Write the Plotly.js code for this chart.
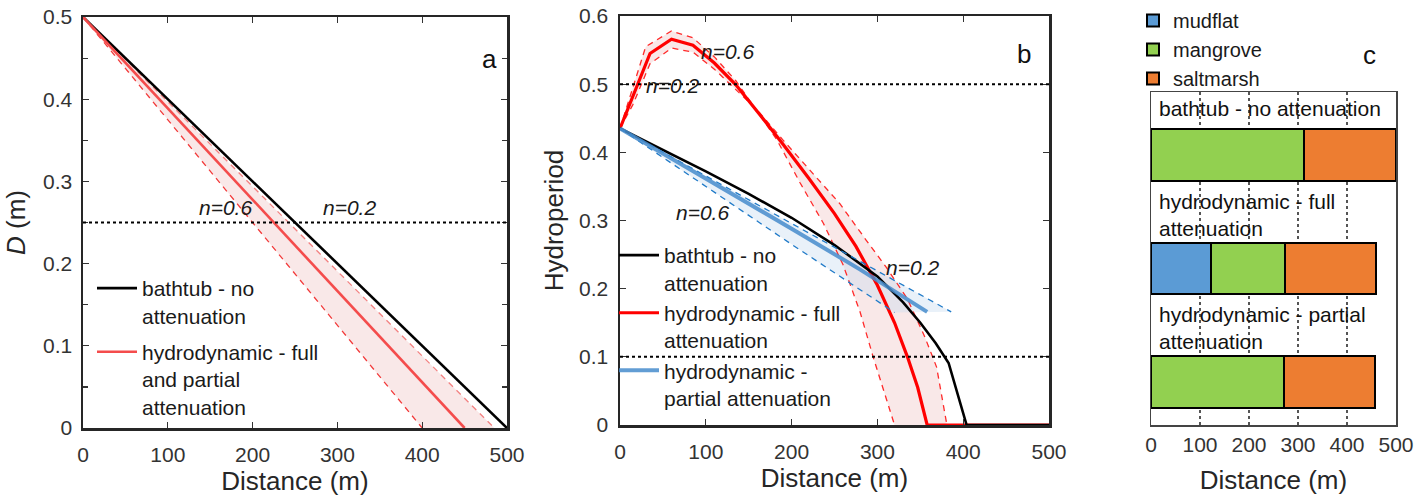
<!DOCTYPE html>
<html>
<head>
<meta charset="utf-8">
<script src="https://cdn.plot.ly/plotly-3.0.1.min.js"></script>
<style>html,body{margin:0;padding:0;background:#fff;}#chart{width:1427px;height:499px;}</style>
</head>
<body>
<div id="chart"></div>
<script>
// ---------- Panel a : water depth D (m) vs distance ----------
const aBathX = [0, 500];
const aBathD = [0.5, 0];
const aHydroX = [0, 450];
const aHydroD = [0.5, 0];
const aN06X = [0, 400];
const aN06D = [0.5, 0];
const aN02X = [0, 485];
const aN02D = [0.5, 0];
const aThreshold = [0.25];

// ---------- Panel b : hydroperiod vs distance ----------
const bBathX = [0, 50, 100, 150, 200, 250, 300, 330, 350, 368, 383, 404, 500];
const bBathH = [0.435, 0.404, 0.372, 0.339, 0.304, 0.264, 0.218, 0.180, 0.150, 0.120, 0.091, 0, 0];

const bFullX = [0, 35, 60, 85, 110, 135, 160, 190, 220, 250, 275, 300, 320, 335, 347, 358, 500];
const bFullH = [0.435, 0.545, 0.566, 0.557, 0.531, 0.499, 0.460, 0.412, 0.362, 0.310, 0.262, 0.205, 0.150, 0.100, 0.055, 0, 0];
const bFullN06X = [0, 30, 60, 85, 110, 135, 160, 183, 210, 237, 260, 280, 295, 320];
const bFullN06H = [0.435, 0.555, 0.578, 0.568, 0.540, 0.505, 0.460, 0.418, 0.355, 0.296, 0.235, 0.165, 0.100, 0];
const bFullN02X = [0, 15, 35, 60, 85, 110, 135, 160, 190, 221, 256, 287, 310, 335, 355, 369, 381];
const bFullN02H = [0.435, 0.470, 0.530, 0.553, 0.547, 0.522, 0.492, 0.462, 0.418, 0.374, 0.325, 0.271, 0.232, 0.185, 0.130, 0.085, 0];

const bPartX = [0, 100, 200, 280, 358];
const bPartH = [0.435, 0.362, 0.288, 0.228, 0.166];
const bPartN06X = [0, 100, 200, 320];
const bPartN06H = [0.435, 0.350, 0.265, 0.165];
const bPartN02X = [0, 100, 200, 386];
const bPartN02H = [0.435, 0.365, 0.296, 0.166];
const bThresholds = [0.5, 0.1];

// ---------- Panel c : vegetation zones ----------
const scenarios = ['bathtub', 'full', 'partial'];
const scenarioLabels = ['bathtub - no attenuation', 'hydrodynamic - full<br>attenuation', 'hydrodynamic - partial<br>attenuation'];
const mudflatW = [null, 122, null];
const mangroveW = [312, 151, 271];
const saltmarshW = [188, 187, 186];

// ---------- helpers ----------
const W = 1427, H = 499;
const px = v => v / W;
const py = v => 1 - v / H;
const FONT = 'Liberation Sans, Arial, sans-serif';
const rev = a => a.slice().reverse();

const traces = [];
// Panel a
traces.push({x: aN06X.concat(rev(aN02X)), y: aN06D.concat(rev(aN02D)), xaxis: 'x', yaxis: 'y', mode: 'lines', fill: 'toself',
  fillcolor: 'rgba(238,190,190,0.35)', line: {width: 0}, showlegend: false, hoverinfo: 'skip'});
traces.push({x: aN06X, y: aN06D, xaxis: 'x', yaxis: 'y', mode: 'lines', line: {color: '#f23a3a', width: 1.3, dash: '6px,5px'}, showlegend: false});
traces.push({x: aN02X, y: aN02D, xaxis: 'x', yaxis: 'y', mode: 'lines', line: {color: '#f38080', width: 1.3, dash: '6px,5px'}, showlegend: false});
traces.push({x: aBathX, y: aBathD, xaxis: 'x', yaxis: 'y', mode: 'lines', line: {color: '#000', width: 2.6},
  name: 'bathtub - no<br>attenuation', legend: 'legend', legendgroup: 'a1'});
traces.push({x: aHydroX, y: aHydroD, xaxis: 'x', yaxis: 'y', mode: 'lines', line: {color: '#f44c4c', width: 2.6},
  name: 'hydrodynamic - full<br>and partial<br>attenuation', legend: 'legend', legendgroup: 'a2'});

// Panel b
traces.push({x: bFullN06X.concat(rev(bFullN02X)), y: bFullN06H.concat(rev(bFullN02H)), xaxis: 'x2', yaxis: 'y2', mode: 'lines', fill: 'toself',
  fillcolor: 'rgba(238,190,190,0.35)', line: {width: 0}, showlegend: false, hoverinfo: 'skip'});
traces.push({x: bPartN06X.concat(rev(bPartN02X)), y: bPartN06H.concat(rev(bPartN02H)), xaxis: 'x2', yaxis: 'y2', mode: 'lines', fill: 'toself',
  fillcolor: 'rgba(200,220,240,0.4)', line: {width: 0}, showlegend: false, hoverinfo: 'skip'});
traces.push({x: bFullN06X, y: bFullN06H, xaxis: 'x2', yaxis: 'y2', mode: 'lines', line: {color: '#ff2a2a', width: 1.3, dash: '6px,5px'}, showlegend: false});
traces.push({x: bFullN02X, y: bFullN02H, xaxis: 'x2', yaxis: 'y2', mode: 'lines', line: {color: '#ff2a2a', width: 1.3, dash: '6px,5px'}, showlegend: false});
traces.push({x: bFullX, y: bFullH, xaxis: 'x2', yaxis: 'y2', mode: 'lines', line: {color: '#ff0000', width: 3.2},
  name: 'hydrodynamic - full<br>attenuation', legend: 'legend2', legendrank: 2, legendgroup: 'b2'});
traces.push({x: bBathX, y: bBathH, xaxis: 'x2', yaxis: 'y2', mode: 'lines', line: {color: '#000', width: 2.6},
  name: 'bathtub - no<br>attenuation', legend: 'legend2', legendrank: 1, legendgroup: 'b1'});
traces.push({x: bPartN06X, y: bPartN06H, xaxis: 'x2', yaxis: 'y2', mode: 'lines', line: {color: '#1f7ac8', width: 1.3, dash: '6px,5px'}, showlegend: false});
traces.push({x: bPartN02X, y: bPartN02H, xaxis: 'x2', yaxis: 'y2', mode: 'lines', line: {color: '#1f7ac8', width: 1.3, dash: '6px,5px'}, showlegend: false});
traces.push({x: bPartX, y: bPartH, xaxis: 'x2', yaxis: 'y2', mode: 'lines', line: {color: 'rgba(70,140,205,0.85)', width: 4},
  name: 'hydrodynamic -<br>partial attenuation', legend: 'legend2', legendrank: 3, legendgroup: 'b3'});

// Panel c
const barCommon = {type: 'bar', orientation: 'h', xaxis: 'x3', yaxis: 'y3', width: 0.45, legend: 'legend3', hoverinfo: 'skip'};
traces.push(Object.assign({}, barCommon, {y: scenarios, x: mudflatW, name: 'mudflat', marker: {color: '#5b9bd5', line: {color: '#000', width: 2}}}));
traces.push(Object.assign({}, barCommon, {y: scenarios, x: mangroveW, name: 'mangrove', marker: {color: '#92d050', line: {color: '#000', width: 2}}}));
traces.push(Object.assign({}, barCommon, {y: scenarios, x: saltmarshW, name: 'saltmarsh', marker: {color: '#ed7d31', line: {color: '#000', width: 2}}}));

const axisCommon = {
  showline: true, mirror: 'ticks', linecolor: '#262626', linewidth: 2.5,
  ticks: 'inside', ticklen: 6, tickwidth: 1.2, tickcolor: '#333',
  showgrid: false, zeroline: false,
  tickfont: {family: FONT, size: 21, color: '#333'}
};
const xTitle = {text: 'Distance (m)', font: {family: FONT, size: 26, color: '#262626'}, standoff: 6};
const xTitleC = {text: 'Distance (m)', font: {family: FONT, size: 26, color: '#262626'}, standoff: 16};

const shapes = [];
aThreshold.forEach(v => shapes.push({type: 'line', xref: 'x domain', yref: 'y', x0: 0, x1: 1, y0: v, y1: v,
  line: {color: '#000', width: 2, dash: 'dot'}}));
bThresholds.forEach(v => shapes.push({type: 'line', xref: 'x2 domain', yref: 'y2', x0: 0, x1: 1, y0: v, y1: v,
  line: {color: '#000', width: 2, dash: 'dot'}}));

const annFont = {family: FONT, size: 21, color: '#1a1a1a'};
const annotations = [
  {text: 'a', x: px(490), y: py(42), xref: 'paper', yref: 'paper', showarrow: false, font: {family: FONT, size: 26, color: '#111'}},
  {text: 'b', x: px(1033), y: py(37), xref: 'paper', yref: 'paper', showarrow: false, font: {family: FONT, size: 26, color: '#111'}},
  {text: 'c', x: px(1378), y: py(38), xref: 'paper', yref: 'paper', showarrow: false, font: {family: FONT, size: 26, color: '#111'}},
  {text: '<i>n=0.6</i>', x: px(197), y: py(207), xref: 'paper', yref: 'paper', showarrow: false, font: annFont},
  {text: '<i>n=0.2</i>', x: px(321), y: py(207), xref: 'paper', yref: 'paper', showarrow: false, font: annFont},
  {text: '<i>n=0.6</i>', x: px(727), y: py(38), xref: 'paper', yref: 'paper', showarrow: false, font: annFont},
  {text: '<i>n=0.2</i>', x: px(672), y: py(72), xref: 'paper', yref: 'paper', showarrow: false, font: annFont},
  {text: '<i>n=0.6</i>', x: px(702), y: py(212), xref: 'paper', yref: 'paper', showarrow: false, font: annFont},
  {text: '<i>n=0.2</i>', x: px(912), y: py(267), xref: 'paper', yref: 'paper', showarrow: false, font: annFont}
];
const labelY = [108, 215, 328];
scenarioLabels.forEach((t, i) => annotations.push({text: t, x: px(1157), y: py(labelY[i]), xref: 'paper', yref: 'paper',
  xanchor: 'left', yanchor: 'middle', align: 'left', showarrow: false, font: {family: FONT, size: 21, color: '#111'}}));

const legendFont = {family: FONT, size: 21, color: '#1a1a1a'};
const layout = {
  width: W, height: H,
  margin: {l: 0, r: 0, t: 0, b: 0},
  paper_bgcolor: '#fff', plot_bgcolor: 'rgba(0,0,0,0)',
  barmode: 'stack',
  showlegend: true,
  xaxis: Object.assign({}, axisCommon, {domain: [px(83), px(507)], anchor: 'y', range: [0, 500], dtick: 100, ticklabelstandoff: 6, title: xTitle}),
  yaxis: Object.assign({}, axisCommon, {domain: [py(428), py(17)], anchor: 'x', range: [0, 0.5], dtick: 0.1, ticklabelstandoff: 4,
    minor: {dtick: 0.05, ticks: 'inside', ticklen: 5, tickcolor: '#333'},
    title: {text: '<i>D</i> (m)', font: {family: FONT, size: 26, color: '#262626'}, standoff: 10}}),
  xaxis2: Object.assign({}, axisCommon, {domain: [px(620), px(1049)], anchor: 'y2', range: [0, 500], dtick: 100, ticklabelstandoff: 6, title: xTitle}),
  yaxis2: Object.assign({}, axisCommon, {domain: [py(425), py(16)], anchor: 'x2', range: [0, 0.6], dtick: 0.1, ticklabelstandoff: 5,
    title: {text: 'Hydroperiod', font: {family: FONT, size: 26, color: '#262626'}, standoff: 8}}),
  xaxis3: {domain: [px(1151), px(1396)], anchor: 'y3', range: [0, 500], dtick: 100,
    showline: true, mirror: true, linecolor: '#444', linewidth: 1.5, ticks: '', zeroline: false,
    showgrid: true, gridcolor: '#555', gridwidth: 1.2, griddash: 'dot',
    tickfont: {family: FONT, size: 21, color: '#333'}, title: xTitleC},
  yaxis3: {domain: [py(425), py(92)], anchor: 'x3', type: 'category', range: [2.379, -0.555],
    showline: true, mirror: true, linecolor: '#444', linewidth: 1.5, ticks: '', showticklabels: false, showgrid: false, zeroline: false},
  legend: {x: px(92), y: py(268), xanchor: 'left', yanchor: 'top', bgcolor: 'rgba(0,0,0,0)', font: legendFont, valign: 'top', itemwidth: 40, tracegroupgap: 6},
  legend2: {x: px(614), y: py(235), xanchor: 'left', yanchor: 'top', bgcolor: 'rgba(0,0,0,0)', font: legendFont, valign: 'top', itemwidth: 40, traceorder: 'normal', tracegroupgap: 6},
  legend3: {x: px(1133), y: py(1), xanchor: 'left', yanchor: 'top', bgcolor: 'rgba(0,0,0,0)', font: {family: FONT, size: 20, color: '#1a1a1a'}, traceorder: 'normal', itemwidth: 30, tracegroupgap: 0},
  shapes: shapes,
  annotations: annotations
};

Plotly.newPlot('chart', traces, layout, {staticPlot: true, displayModeBar: false});
</script>
</body>
</html>
